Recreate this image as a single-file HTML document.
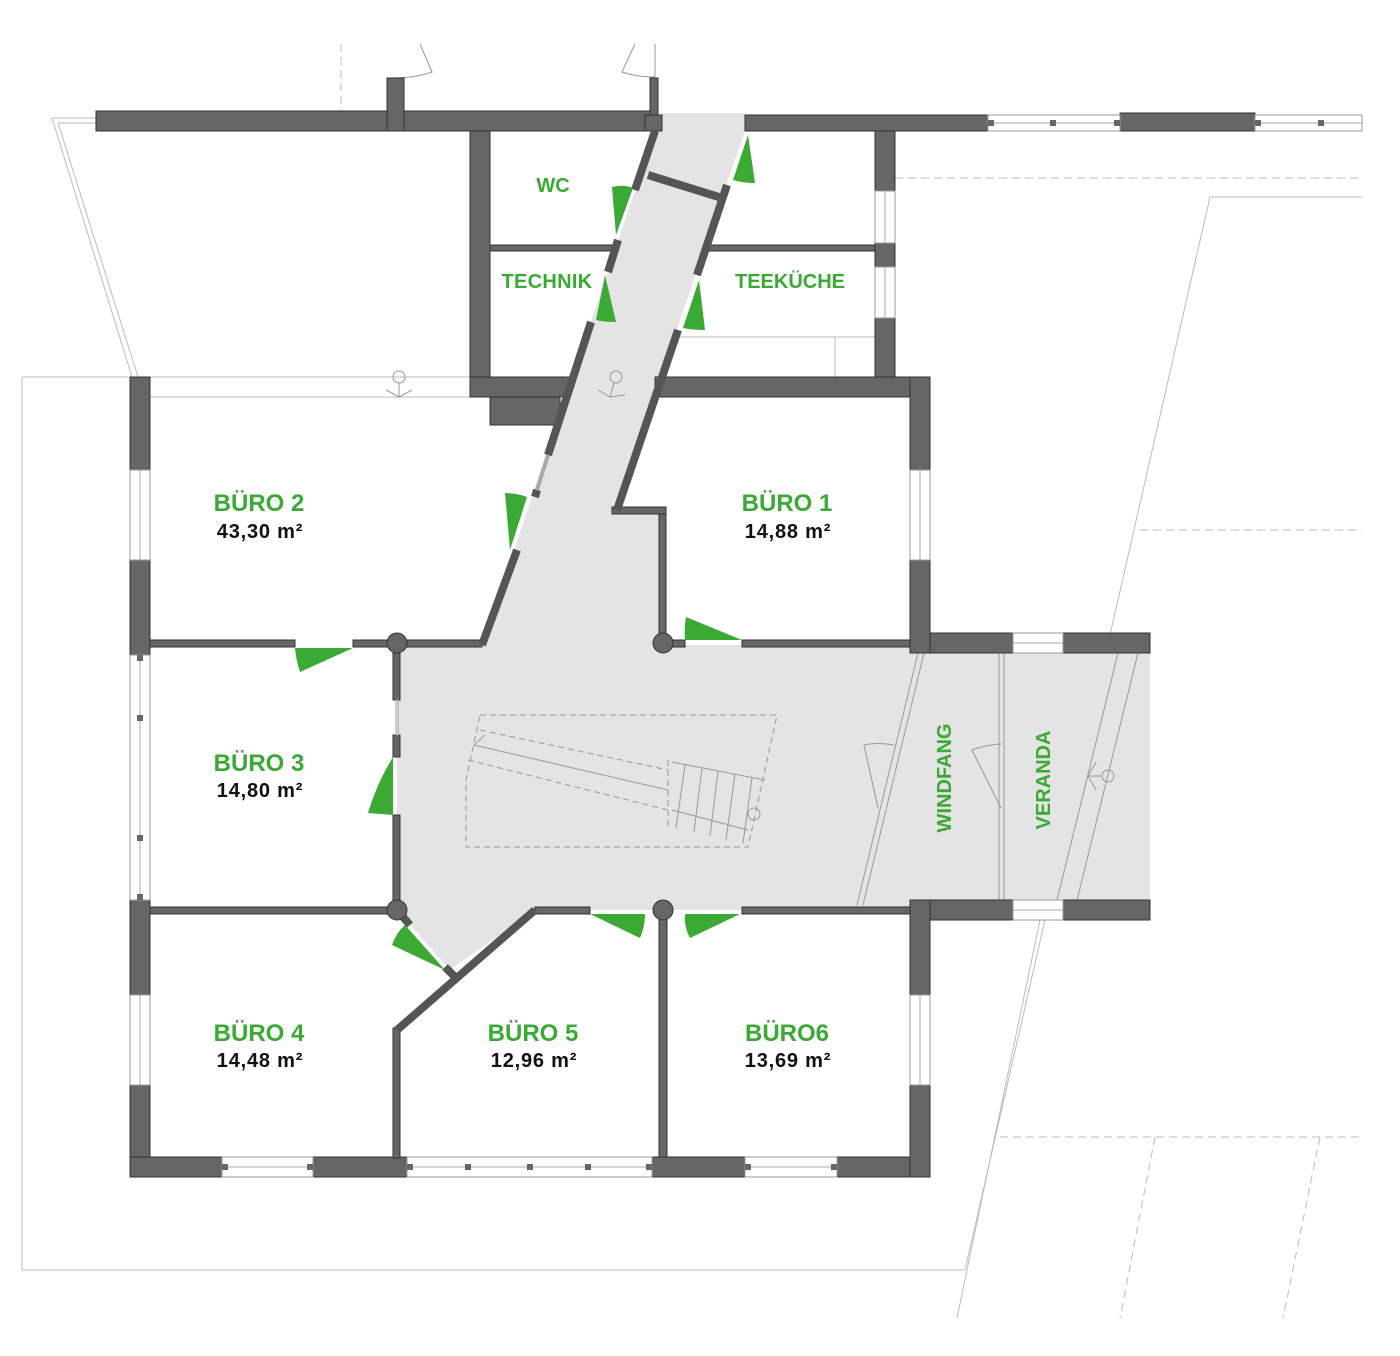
<!DOCTYPE html>
<html><head><meta charset="utf-8"><style>
html,body{margin:0;padding:0;background:#fff}
svg{display:block}
.t{font-family:"Liberation Sans",sans-serif;font-weight:bold;text-anchor:middle}
.g{fill:#3aaa35}
.k{fill:#111}
</style></head><body>
<svg width="1400" height="1356" viewBox="0 0 1400 1356" xmlns="http://www.w3.org/2000/svg">
<g fill="none" stroke="#bbb" stroke-width="1">
<path d="M22 377 H470 M150 397 H490 M22 377 V1270 H965 L1210 197 H1362"/>
<path d="M52 118 H96 M52 118 L132 377 M58 123 H96 M58 123 L138 377"/>
<path d="M1040 920 L957 1318"/>
<path d="M680 337 H835 V377 M835 337 H875"/>
</g>
<g fill="none" stroke="#bbb" stroke-width="1" stroke-dasharray="8 5">
<path d="M895 178 H1362 M1140 530 H1362 M1000 1137 H1362 M1155 1137 L1120 1318 M1320 1137 L1283 1318 M341 44 V111"/>
</g>
<polygon fill="#e4e4e4" points="660,113 745,113 745,131 615,510 663,510 663,645 910,645 910,653 1150,653 1150,900 910,900 910,910 535,910 450,970 397,910 397,645 482,645 655,131"/>
<g fill="none" stroke="#999" stroke-width="1">
<path stroke-dasharray="6 4" d="M480 715 H777 L748 847 H466 V780 L480 715 M468 760 L668 810 M480 730 L668 770 M668 760 V828"/>
<path d="M474 745 L668 790 M672 762 L765 780 M672 810 L748 830 M685 765 L676 828 M702 768 L694 832 M718 771 L710 836 M735 774 L726 840 M752 778 L743 843 M474 745 L485 735"/>
<circle cx="754" cy="814" r="6"/>
<circle cx="399" cy="377" r="6"/><path d="M399 383 V397 M386 390 L399 397 L412 390"/>
<circle cx="616" cy="377" r="6"/><path d="M614 383 L610 397 M598 390 L610 397 M610 397 L625 395"/>
<circle cx="1108" cy="776" r="6"/><path d="M1102 776 H1088 M1096 762 L1088 776 L1096 790"/>
<path d="M918 653 L857 905 M924 653 L863 905 M1118 653 L1057 900 M1138 653 L1077 900"/>
<path d="M999 653 V900 M1004 653 V900"/>
<path d="M878 808 L864 745 Q877 742 894 745 M1001 808 L972 750 Q985 745 1001 744"/>
<path d="M420 44 L432 72 Q415 78 392 78 M635 44 L622 72 Q636 77 655 77 M655 44 V78"/>
</g>
<g fill="#666" stroke="#333" stroke-width="1">
<rect x="96" y="111" width="560" height="20"/>
<rect x="387" y="78" width="17" height="53"/>
<rect x="650" y="78" width="8" height="37"/>
<rect x="645" y="115" width="17" height="16"/>
<rect x="745" y="115" width="243" height="16"/>
<rect x="1120" y="113" width="135" height="18"/>
<rect x="470" y="131" width="20" height="266"/>
<rect x="470" y="377" width="100" height="20"/>
<rect x="490" y="397" width="70" height="28"/>
<rect x="875" y="131" width="20" height="60"/>
<rect x="875" y="243" width="20" height="24"/>
<rect x="875" y="318" width="20" height="79"/>
<rect x="655" y="377" width="255" height="20"/>
<rect x="910" y="377" width="20" height="93"/>
<rect x="910" y="560" width="20" height="93"/>
<rect x="490" y="245" width="125" height="6"/>
<rect x="705" y="245" width="170" height="6"/>
<rect x="130" y="377" width="20" height="93"/>
<rect x="130" y="560" width="20" height="95"/>
<rect x="130" y="900" width="20" height="95"/>
<rect x="130" y="1085" width="20" height="92"/>
<rect x="130" y="1157" width="92" height="20"/>
<rect x="313" y="1157" width="94" height="20"/>
<rect x="652" y="1157" width="93" height="20"/>
<rect x="837" y="1157" width="93" height="20"/>
<rect x="910" y="900" width="20" height="95"/>
<rect x="910" y="1085" width="20" height="92"/>
<rect x="930" y="633" width="83" height="20"/>
<rect x="1063" y="633" width="87" height="20"/>
<rect x="930" y="900" width="83" height="20"/>
<rect x="1063" y="900" width="87" height="20"/>
<rect x="150" y="640" width="145" height="7"/>
<rect x="353" y="640" width="129" height="7"/>
<rect x="663" y="640" width="22" height="7"/>
<rect x="742" y="640" width="168" height="7"/>
<rect x="150" y="907" width="247" height="7"/>
<rect x="535" y="907" width="55" height="7"/>
<rect x="742" y="907" width="168" height="7"/>
<rect x="393" y="653" width="7" height="47"/>
<rect x="393" y="735" width="7" height="22"/>
<rect x="393" y="815" width="7" height="90"/>
<rect x="393" y="1028" width="7" height="130"/>
<rect x="659" y="914" width="8" height="243"/>
<rect x="659" y="510" width="7" height="135"/>
<rect x="612" y="507" width="54" height="7"/>
</g>
<g stroke="#555" stroke-width="8" stroke-linecap="butt" fill="none">
<path d="M655 131 L635 190 M618 240 L608 272 M591 322 L548 455 M537 490 L535 497 M517 550 L482 645"/>
<path d="M727 185 L697 275 M678 330 L617 510"/>
<path d="M648 175 L722 198"/>
<path d="M397 1030 L535 910 M397 910 L410 925 M445 967 L455 977"/>
</g>
<path d="M548 455 L537 490" stroke="#aaa" stroke-width="4"/>
<g fill="#666" stroke="#333" stroke-width="1">
<circle cx="397" cy="643" r="10"/><circle cx="663" cy="643" r="10"/>
<circle cx="397" cy="910" r="10"/><circle cx="663" cy="910" r="10"/>
</g>
<g fill="#fff" stroke="#999" stroke-width="1">
<rect x="988" y="115" width="132" height="16"/><rect x="1255" y="115" width="107" height="16"/>
<rect x="875" y="191" width="20" height="52"/><rect x="875" y="267" width="20" height="51"/>
<rect x="910" y="470" width="20" height="90"/><rect x="130" y="470" width="20" height="90"/>
<rect x="130" y="655" width="20" height="245"/><rect x="130" y="995" width="20" height="90"/>
<rect x="910" y="995" width="20" height="90"/>
<rect x="222" y="1157" width="91" height="20"/><rect x="407" y="1157" width="245" height="20"/>
<rect x="745" y="1157" width="92" height="20"/>
<rect x="1013" y="633" width="50" height="20"/><rect x="1013" y="900" width="50" height="20"/>
<rect x="396" y="700" width="2" height="35"/>
</g>
<g stroke="#aaa" stroke-width="1">
<path d="M988 123 H1120 M1255 123 H1362 M885 191 V243 M885 267 V318 M920 470 V560 M140 470 V560 M140 655 V900 M140 995 V1085 M920 995 V1085 M222 1167 H313 M407 1167 H652 M745 1167 H837 M1013 643 H1063 M1013 910 H1063"/>
</g>
<g fill="#666">
<rect x="988" y="120" width="6" height="6"/><rect x="1050" y="120" width="6" height="6"/><rect x="1114" y="120" width="6" height="6"/>
<rect x="1255" y="120" width="6" height="6"/><rect x="1318" y="120" width="6" height="6"/>
<rect x="137" y="655" width="6" height="6"/><rect x="137" y="715" width="6" height="6"/><rect x="137" y="835" width="6" height="6"/><rect x="137" y="894" width="6" height="6"/>
<rect x="407" y="1164" width="6" height="6"/><rect x="465" y="1164" width="6" height="6"/><rect x="527" y="1164" width="6" height="6"/><rect x="585" y="1164" width="6" height="6"/><rect x="646" y="1164" width="6" height="6"/>
<rect x="222" y="1164" width="6" height="6"/><rect x="307" y="1164" width="6" height="6"/>
<rect x="745" y="1164" width="6" height="6"/><rect x="831" y="1164" width="6" height="6"/>
</g>
<g fill="#3aaa35">
<path d="M612 187 Q624 184 633 188 L616 235 Z"/>
<path d="M605 275 L616 322 Q604 322 596 320 Z"/>
<path d="M699 280 L705 330 Q692 330 683 328 Z"/>
<path d="M748 135 L755 183 Q743 183 733 180 Z"/>
<path d="M505 493 Q517 493 527 497 L510 550 Z"/>
<path d="M295 648 L353 648 L300 672 Q296 660 295 648 Z"/>
<path d="M686 617 L742 640 L685 640 Q684 628 686 617 Z"/>
<path d="M393 757 L393 815 L368 813 Q377 783 393 757 Z"/>
<path d="M445 970 L405 925 Q396 933 392 945 Z"/>
<path d="M590 914 L645 914 Q645 927 640 938 Z"/>
<path d="M685 914 L740 914 L690 938 Q684 927 685 914 Z"/>
</g>
<text class="t g" x="553" y="192" font-size="20">WC</text>
<text class="t g" x="547" y="288" font-size="20" letter-spacing="0.3">TECHNIK</text>
<text class="t g" x="790" y="288" font-size="20">TEEKÜCHE</text>
<text class="t g" x="259" y="511" font-size="24">BÜRO 2</text>
<text class="t k" x="260" y="538" font-size="20" letter-spacing="0.8">43,30 m²</text>
<text class="t g" x="787" y="511" font-size="24">BÜRO 1</text>
<text class="t k" x="788" y="538" font-size="20" letter-spacing="0.8">14,88 m²</text>
<text class="t g" x="259" y="771" font-size="24">BÜRO 3</text>
<text class="t k" x="260" y="797" font-size="20" letter-spacing="0.8">14,80 m²</text>
<text class="t g" x="259" y="1041" font-size="24">BÜRO 4</text>
<text class="t k" x="260" y="1067" font-size="20" letter-spacing="0.8">14,48 m²</text>
<text class="t g" x="533" y="1041" font-size="24">BÜRO 5</text>
<text class="t k" x="534" y="1067" font-size="20" letter-spacing="0.8">12,96 m²</text>
<text class="t g" x="787" y="1041" font-size="24">BÜRO6</text>
<text class="t k" x="788" y="1067" font-size="20" letter-spacing="0.8">13,69 m²</text>
<text class="t g" font-size="20" transform="translate(951 778) rotate(-90)">WINDFANG</text>
<text class="t g" font-size="20" transform="translate(1050 780) rotate(-90)">VERANDA</text>
</svg>
</body></html>
